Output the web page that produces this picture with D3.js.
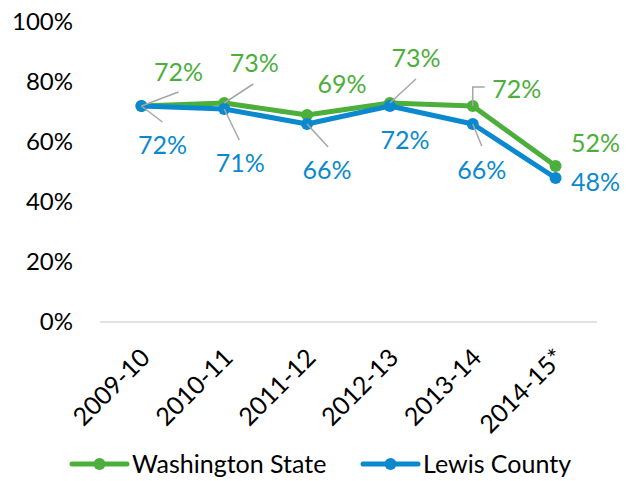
<!DOCTYPE html>
<html>
<head>
<meta charset="utf-8">
<script src="https://cdn.jsdelivr.net/npm/d3@7"></script>
<style>
    body { margin: 0; background: #fff; }
    #chart { width: 631px; height: 481px; }
    text { font-family: Lato, "Open Sans", sans-serif; }
</style>
</head>
<body>
<div id="chart"></div>
<script>
//Datos
const categories = ['2009-10', '2010-11', '2011-12', '2012-13', '2013-14', '2014-15*'];
const washington = [0.72, 0.73, 0.69, 0.73, 0.72, 0.52];
const lewis = [0.72, 0.71, 0.66, 0.72, 0.66, 0.48];
const yTicks = [0, 0.2, 0.4, 0.6, 0.8, 1];
const seriesNames = ['Washington State', 'Lewis County'];

//Colores fijos
const COLOR_GREEN = '#4CAF3C',
COLOR_BLUE = '#0A89CF',
COLOR_LEADER = '#A6A6A6';

//Posición de las etiquetas (desplazamiento respecto al punto) y líneas guía
const labelsWA = [
    {dx: 37, dy: -34, leader: [[37, -14]]},
    {dx: 30, dy: -40, leader: [[29, -19]]},
    {dx: 35, dy: -31, leader: null},
    {dx: 26, dy: -45, leader: [[26, -24]]},
    {dx: 44, dy: -17, leader: [[0, -19], [12, -19]]},
    {dx: 40, dy: -23, leader: null}
];
const labelsLewis = [
    {dx: 21, dy: 39, leader: [[21, 16]]},
    {dx: 16, dy: 54, leader: [[15, 31]]},
    {dx: 20, dy: 46, leader: [[21, 23]]},
    {dx: 15, dy: 34, leader: null},
    {dx: 9, dy: 46, leader: [[9, 22]]},
    {dx: 40, dy: 4, leader: null}
];

let svg = d3.select('#chart')
    .append('svg')
        .attr('width', 631)
        .attr('height', 481);

let x = d3.scalePoint()
    .domain(categories)
    .range([100, 597])
    .padding(0.5);

let y = d3.scaleLinear()
    .domain([0, 1])
    .range([322, 22]);

// Eje Y
let yAxis = function(g) {
    g.call(d3.axisLeft(y).tickValues(yTicks).tickFormat(d3.format('.0%')).tickSize(0).tickPadding(27));
    g.call(function(g){ g.select('.domain').remove(); });
    g.selectAll('.tick text')
        .attr('font-size', 24)
        .attr('font-family', 'Lato, sans-serif')
        .attr('fill', '#000');
}

svg.append('g')
    .attr('transform', 'translate(100,0)')
    .call(yAxis);

// Línea base
svg.append('line')
    .attr('x1', x.range()[0])
    .attr('x2', x.range()[1])
    .attr('y1', y(0))
    .attr('y2', y(0))
    .attr('stroke', '#D9D9D9')
    .attr('stroke-width', 1.5);

// Eje X
svg.append('g')
    .selectAll('text')
    .data(categories)
    .enter()
    .append('text')
    .attr('transform', function(d) { return 'translate(' + (x(d) + 4) + ',' + (y(0) + 31) + ') rotate(-45)'; })
    .attr('text-anchor', 'end')
    .attr('dy', '0.35em')
    .attr('font-size', 25)
    .attr('fill', '#000')
    .text(function(d) { return d; });

let line = d3.line()
    .x(function(d, i) { return x(categories[i]); })
    .y(function(d) { return y(d); });

function drawSeries(values, color) {
    let g = svg.append('g');

    g.append('path')
        .datum(values)
        .attr('fill', 'none')
        .attr('stroke', color)
        .attr('stroke-width', 5)
        .attr('stroke-linejoin', 'round')
        .attr('d', line);

    g.selectAll('circle')
        .data(values)
        .enter()
        .append('circle')
        .attr('cx', function(d, i) { return x(categories[i]); })
        .attr('cy', function(d) { return y(d); })
        .attr('r', 6)
        .attr('fill', color);

    return g;
}

function drawLabels(values, color, layout) {
    let g = svg.append('g');

    values.forEach(function(d, i) {
        let px = x(categories[i]), py = y(d), l = layout[i];
        if (l.leader) {
            let pts = [[px, py]].concat(l.leader.map(function(p) { return [px + p[0], py + p[1]]; }));
            g.append('path')
                .attr('d', d3.line()(pts))
                .attr('fill', 'none')
                .attr('stroke', COLOR_LEADER)
                .attr('stroke-width', 1.5);
        }
        g.append('text')
            .attr('x', px + l.dx)
            .attr('y', py + l.dy)
            .attr('dy', '0.35em')
            .attr('text-anchor', 'middle')
            .attr('font-size', 25)
            .attr('fill', color)
            .text(d3.format('.0%')(d));
    });
}

drawSeries(washington, COLOR_GREEN);
drawSeries(lewis, COLOR_BLUE);
drawLabels(washington, COLOR_GREEN, labelsWA);
drawLabels(lewis, COLOR_BLUE, labelsLewis);

// Leyenda
let legendItems = [
    {name: seriesNames[0], color: COLOR_GREEN, x: 72},
    {name: seriesNames[1], color: COLOR_BLUE, x: 363}
];

let legend = svg.append('g')
    .attr('transform', 'translate(0,464)');

legendItems.forEach(function(d) {
    legend.append('line')
        .attr('x1', d.x)
        .attr('x2', d.x + 55)
        .attr('stroke', d.color)
        .attr('stroke-width', 5)
        .attr('stroke-linecap', 'round');
    legend.append('circle')
        .attr('cx', d.x + 27.5)
        .attr('r', 6)
        .attr('fill', d.color);
    legend.append('text')
        .attr('x', d.x + 60)
        .attr('dy', '0.35em')
        .attr('font-size', 25)
        .attr('fill', '#000')
        .text(d.name);
});
</script>
</body>
</html>
